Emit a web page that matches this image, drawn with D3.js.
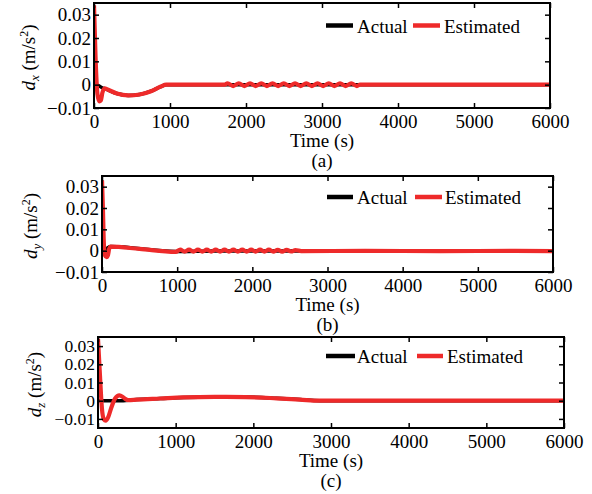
<!DOCTYPE html>
<html>
<head>
<meta charset="utf-8">
<script src="https://cdn.jsdelivr.net/npm/d3@7"></script>
<style>
  body { margin: 0; background: #fff; }
  svg text { font-family: "Liberation Serif", "Times New Roman", Times, serif; fill: #000; }
</style>
</head>
<body>
<svg id="chart" width="592" height="494"></svg>
<script>
'use strict'

// ---- data ----
const timeTicks = [0, 1000, 2000, 3000, 4000, 5000, 6000]
const distTicks = [-0.01, 0, 0.01, 0.02, 0.03]
const seriesNames = ['Actual', 'Estimated']
const panelTags = ['(a)', '(b)', '(c)']
const axisNames = ['x', 'y', 'z']

const actualX = [[0, 0], [60, -0.0004], [100, -0.0012], [150, -0.0018], [300, -0.0038], [450, -0.0046],
  [600, -0.0042], [750, -0.0028], [880, -0.0008], [950, 0], [6000, 0]]
const estimatedX = [[0, 0.034], [20, 0.012], [45, -0.004], [70, -0.0072], [90, -0.0068], [110, -0.0035],
  [140, -0.0016], [180, -0.0021], [300, -0.0038], [450, -0.0046], [600, -0.0042], [750, -0.0028],
  [880, -0.0008], [950, 0], [1720, 0],
  [1757, 0.0006], [1831, -0.0006], [1905, 0.0006], [1979, -0.0006], [2053, 0.0006], [2127, -0.0006],
  [2201, 0.0006], [2275, -0.0006], [2349, 0.0006], [2423, -0.0006], [2497, 0.0006], [2571, -0.0006],
  [2645, 0.0006], [2719, -0.0006], [2793, 0.0006], [2867, -0.0006], [2941, 0.0006], [3015, -0.0006],
  [3089, 0.0006], [3163, -0.0006], [3237, 0.0006], [3311, -0.0006], [3385, 0.0006], [3459, -0.0006],
  [3500, 0], [6000, 0]]

const actualY = [[0, 0], [60, 0.001], [115, 0.0019], [980, -0.0004], [1500, -0.0001], [6000, -0.0001]]
const estimatedY = [[0, 0.033], [12, 0.02], [25, 0.003], [40, -0.0022], [60, -0.003], [80, -0.002],
  [95, 0.0008], [115, 0.0019], [500, 0.0008], [980, -0.0006],
  [1040, 0.0005], [1099, -0.0005], [1158, 0.0005], [1217, -0.0005], [1276, 0.0005], [1335, -0.0005],
  [1394, 0.0005], [1453, -0.0005], [1512, 0.0005], [1571, -0.0005], [1630, 0.0005], [1689, -0.0005],
  [1748, 0.0005], [1807, -0.0005], [1866, 0.0005], [1925, -0.0005], [1984, 0.0005], [2043, -0.0005],
  [2102, 0.0005], [2161, -0.0005], [2220, 0.0005], [2279, -0.0005], [2338, 0.0004], [2397, -0.0005],
  [2456, 0.0004], [2515, -0.0004], [2574, 0.0003], [2650, -0.0002],
  [3500, -0.0001], [4500, -0.0002], [5500, -0.0001], [6000, -0.0002]]

const actualZ = [[0, 0], [300, 0], [390, 0.0003], [500, 0.0006], [800, 0.0012], [1100, 0.0018],
  [1500, 0.0021], [1900, 0.002], [2300, 0.0013], [2600, 0.0006], [2850, 0], [6000, 0]]
const estimatedZ = [[0, 0.034], [25, 0.014], [50, -0.004], [75, -0.0102], [100, -0.011], [130, -0.0092],
  [170, -0.004], [220, 0.0012], [275, 0.0029], [315, 0.0022], [350, 0.001], [390, 0.0003],
  [500, 0.0006], [800, 0.0012], [1100, 0.0018], [1500, 0.0021], [1900, 0.002], [2300, 0.0013],
  [2600, 0.0006], [2850, 0], [6000, 0]]

const actualSets = [actualX, actualY, actualZ]
const estimatedSets = [estimatedX, estimatedY, estimatedZ]
const yDomains = [[-0.01, 0.035], [-0.01, 0.035], [-0.015, 0.035]]

// ---- layout ----
const boxes = [
  { left: 94, right: 550, top: 3, bottom: 108, ylab: 35, yfont: 19, leg: [326, 353, 357, 413, 440, 444, 32.5] },
  { left: 102, right: 553, top: 176, bottom: 272, ylab: 37, yfont: 19, leg: [327, 353, 357, 415, 442, 445, 204] },
  { left: 98, right: 564, top: 337, bottom: 428, ylab: 41, yfont: 17.5, leg: [326, 355, 357, 417, 443, 447, 363] }
]
const colors = { Actual: '#000000', Estimated: '#ee2a2a' }
const fmtY = d => d === 0 ? '0' : d3.format('.2f')(d)
const FONT = 19

const svg = d3.select('#chart')

boxes.forEach((b, i) => {
  const x = d3.scaleLinear().domain([0, 6000]).range([b.left, b.right])
  const y = d3.scaleLinear().domain(yDomains[i]).range([b.bottom, b.top])
  const g = svg.append('g')

  g.append('clipPath').attr('id', 'clip' + i)
    .append('rect')
    .attr('x', b.left).attr('y', b.top)
    .attr('width', b.right - b.left).attr('height', b.bottom - b.top)

  const line = d3.line()
    .x(d => x(d[0]))
    .y(d => y(d[1]))
    .curve(d3.curveMonotoneX)

  const plot = g.append('g').attr('clip-path', `url(#clip${i})`)
  plot.append('path')
    .attr('d', line(actualSets[i]))
    .attr('fill', 'none')
    .attr('stroke', colors.Actual)
    .attr('stroke-width', 3.5)
  plot.append('path')
    .attr('d', line(estimatedSets[i]))
    .attr('fill', 'none')
    .attr('stroke', colors.Estimated)
    .attr('stroke-width', 4.2)
    .attr('stroke-linejoin', 'round')

  // axes, ticks point inward on all four sides
  const gx = g.append('g').attr('transform', `translate(0,${b.bottom})`)
    .call(d3.axisBottom(x).tickValues(timeTicks).tickFormat(d3.format('d'))
      .tickSize(-5).tickSizeOuter(0).tickPadding(6.5))
  const gt = g.append('g').attr('transform', `translate(0,${b.top})`)
    .call(d3.axisTop(x).tickValues(timeTicks).tickFormat('').tickSize(-5).tickSizeOuter(0))
  const gy = g.append('g').attr('transform', `translate(${b.left},0)`)
    .call(d3.axisLeft(y).tickValues(distTicks).tickFormat(fmtY)
      .tickSize(-5).tickSizeOuter(0).tickPadding(3))
  const gr = g.append('g').attr('transform', `translate(${b.right},0)`)
    .call(d3.axisRight(y).tickValues(distTicks).tickFormat('').tickSize(-5).tickSizeOuter(0))

  ;[gx, gt, gy, gr].forEach(a => {
    a.select('.domain').remove()
    a.selectAll('.tick line').attr('stroke', '#000').attr('stroke-width', 1.5)
    a.attr('font-family', null).attr('font-size', FONT)
  })
  gy.attr('font-size', b.yfont)

  g.append('rect')
    .attr('x', b.left).attr('y', b.top)
    .attr('width', b.right - b.left).attr('height', b.bottom - b.top)
    .attr('fill', 'none').attr('stroke', '#000').attr('stroke-width', 2)

  // labels
  const cx = (b.left + b.right) / 2
  g.append('text')
    .attr('x', cx).attr('y', b.bottom + 39)
    .attr('text-anchor', 'middle').attr('font-size', FONT)
    .text('Time (s)')
  g.append('text')
    .attr('x', cx).attr('y', b.bottom + 59)
    .attr('text-anchor', 'middle').attr('font-size', FONT)
    .text(panelTags[i])

  const yl = g.append('text')
    .attr('transform', `translate(${b.ylab},${(b.top + b.bottom) / 2 + 2}) rotate(-90)`)
    .attr('text-anchor', 'middle').attr('font-size', FONT)
  yl.append('tspan').attr('font-style', 'italic').text('d')
  yl.append('tspan').attr('font-style', 'italic').attr('font-size', 13).attr('dy', 4).text(axisNames[i])
  yl.append('tspan').attr('dy', -4).text(' (m/s')
  yl.append('tspan').attr('font-size', 12).attr('dy', -7).text('2')
  yl.append('tspan').attr('dy', 7).text(')')

  // legend
  const [k1, k2, t1, r1, r2, t2, base] = b.leg
  const legItems = [[k1, k2, t1], [r1, r2, t2]]
  seriesNames.forEach((name, j) => {
    const [a1, a2, tx] = legItems[j]
    g.append('line')
      .attr('x1', a1).attr('x2', a2)
      .attr('y1', base - 7).attr('y2', base - 7)
      .attr('stroke', colors[name]).attr('stroke-width', 4.5)
    g.append('text')
      .attr('x', tx).attr('y', base)
      .attr('font-size', FONT)
      .text(name)
  })
})
</script>
</body>
</html>
